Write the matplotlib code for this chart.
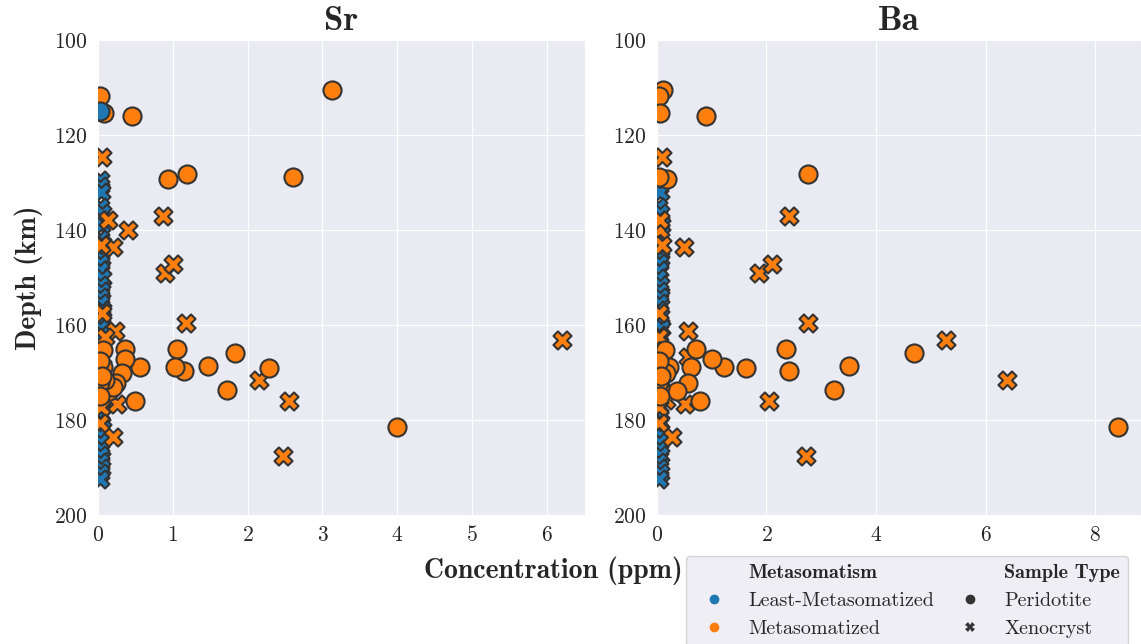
"""Sr and Ba concentration against depth, by metasomatism and sample type"""

import numpy as np
import pandas as pd
import matplotlib
matplotlib.use('Agg')
import matplotlib.pyplot as plt
from matplotlib.lines import Line2D
import seaborn as sns

sns.set_style('darkgrid')
plt.rcParams['font.family'] = ['cmr10', 'DejaVu Serif']
plt.rcParams['axes.formatter.use_mathtext'] = True
plt.rcParams['axes.unicode_minus'] = False

BOLD = ['cmb10', 'DejaVu Serif']

# metasomatized peridotites
mp_depth = [110.5, 111.8, 115.3, 116.1, 129.3, 128.2, 128.9, 165.8, 165.1, 165.1,
            165.2, 169.7, 169.1, 168.7, 168.9, 168.9, 168.9, 167.2, 170.2, 172.3,
            173.6, 173.8, 173.0, 176.1, 181.4, 171.6, 167.5, 172.0, 175.0, 170.8]
mp_sr = [3.13, 0.02, 0.08, 0.45, 0.93, 1.19, 2.61, 1.83, 1.05, 0.36,
         0.06, 1.15, 2.28, 1.47, 1.03, 0.56, 0.06, 0.36, 0.32, 0.24,
         1.73, 0.15, 0.20, 0.49, 4.00, 0.09, 0.03, 0.03, 0.02, 0.05]
mp_ba = [0.11, 0.04, 0.05, 0.89, 0.19, 2.75, 0.04, 4.70, 2.35, 0.71,
         0.15, 2.41, 1.62, 3.51, 1.22, 0.63, 0.22, 1.01, 0.17, 0.57,
         3.24, 0.36, 0.05, 0.78, 8.42, 0.05, 0.04, 0.03, 0.06, 0.08]

# metasomatized xenocrysts
mx_depth = [124.6, 137.0, 140.0, 137.9, 143.6, 143.2, 149.1, 147.2, 159.6, 161.2,
            163.1, 171.6, 176.0, 187.6, 176.7, 183.5, 166.7, 175.8, 157.5, 177.2,
            180.7, 162.5]
mx_sr = [0.05, 0.87, 0.40, 0.13, 0.20, 0.04, 0.89, 1.00, 1.18, 0.23,
         6.20, 2.15, 2.55, 2.47, 0.25, 0.20, 0.05, 0.04, 0.05, 0.04,
         0.03, 0.09]
mx_ba = [0.09, 2.42, 0.05, 0.06, 0.49, 0.10, 1.87, 2.10, 2.75, 0.57,
         5.27, 6.40, 2.05, 2.72, 0.51, 0.27, 0.57, 0.16, 0.04, 0.03,
         0.04, 0.03]

# least-metasomatized peridotites
lp_depth = [115.0]
lp_sr = [0.02]
lp_ba = [np.nan]

# least-metasomatized xenocrysts
lx_depth = [129.5, 130.8, 132.0, 135.2, 136.4, 137.8, 139.0, 141.8, 143.0, 144.6,
            145.8, 147.0, 148.4, 150.2, 151.6, 152.8, 154.0, 155.4, 156.8, 158.2,
            159.4, 160.6, 162.0, 163.6, 165.0, 177.5, 179.0, 180.4, 181.8, 183.2,
            184.6, 186.0, 187.4, 188.8, 190.0, 191.2, 192.4]
lx_sr = [0.03, 0.02, 0.04, 0.03, 0.05, 0.02, 0.04, 0.03, 0.05, 0.02,
         0.04, 0.03, 0.02, 0.05, 0.03, 0.04, 0.02, 0.03, 0.05, 0.04,
         0.02, 0.03, 0.04, 0.05, 0.03, 0.02, 0.04, 0.03, 0.05, 0.02,
         0.03, 0.04, 0.02, 0.03, 0.04, 0.02, 0.03]
lx_ba = [0.04, 0.03, 0.06, 0.02, 0.05, 0.03, 0.07, 0.04, 0.02, 0.05,
         0.06, 0.03, 0.04, 0.02, 0.05, 0.03, 0.06, 0.04, 0.02, 0.05,
         0.03, 0.07, 0.04, 0.02, 0.05, 0.03, 0.04, 0.06, 0.02, 0.05,
         0.03, 0.04, 0.06, 0.02, 0.03, 0.05, 0.04]

groups = ['Least-Metasomatized', 'Metasomatized']
types = ['Peridotite', 'Xenocryst']
elements = ['Sr', 'Ba']


def _frame(depth, sr, ba, group, kind):
    return pd.DataFrame({'Depth': depth, 'Sr': sr, 'Ba': ba,
                         'Metasomatism': group, 'Sample Type': kind})


data = pd.concat([
    _frame(lx_depth, lx_sr, lx_ba, groups[0], types[1]),
    _frame(mx_depth, mx_sr, mx_ba, groups[1], types[1]),
    _frame(mp_depth, mp_sr, mp_ba, groups[1], types[0]),
    _frame(lp_depth, lp_sr, lp_ba, groups[0], types[0]),
], ignore_index=True)

palette = {groups[0]: '#1f77b4', groups[1]: '#ff7f0e'}
markers = {types[0]: 'o', types[1]: 'X'}
edge = '#333333'

fig = plt.figure(figsize=(11.41, 6.44), dpi=100)
axes = [fig.add_axes([0.0859, 0.2003, 0.4268, 0.7376]),
        fig.add_axes([0.5758, 0.2003, 0.4242, 0.7376])]

for ax, el in zip(axes, elements):
    # draw in data order so later groups sit on top
    order = [(groups[0], types[1]), (groups[1], types[1]),
             (groups[1], types[0]), (groups[0], types[0])]
    for grp, kind in order:
        sub = data[(data['Metasomatism'] == grp) & (data['Sample Type'] == kind)]
        ax.scatter(sub[el], sub['Depth'], s=170, marker=markers[kind],
                   color=palette[grp], edgecolor=edge, linewidth=1.5, zorder=3)
    ax.axvline(0, color='red', alpha=0.12, lw=1.5, zorder=1)
    ax.set_xlim(left=0)
    ax.set_ylim(200, 100)
    ax.set_yticks(np.arange(100, 201, 20))
    ax.set_title(el, fontsize=25, family=BOLD, pad=7)
    ax.tick_params(labelsize=15.5, pad=4)

axes[0].set_ylabel('Depth (km)', fontsize=20, family=BOLD, labelpad=8)
fig.text(0.485, 0.113, 'Concentration (ppm)', fontsize=20, family=BOLD,
         ha='center', va='center')

# two-column legend with group headings
blank = Line2D([], [], linestyle='none', marker='')
handles = [blank,
           Line2D([], [], linestyle='none', marker='o', markersize=7,
                  color=palette[groups[0]], markeredgewidth=0),
           Line2D([], [], linestyle='none', marker='o', markersize=7,
                  color=palette[groups[1]], markeredgewidth=0),
           blank,
           Line2D([], [], linestyle='none', marker='o', markersize=7,
                  color=edge, markeredgewidth=0),
           Line2D([], [], linestyle='none', marker='X', markersize=7,
                  color=edge, markeredgewidth=0)]
labels = ['Metasomatism', groups[0], groups[1], 'Sample Type', types[0], types[1]]
leg = fig.legend(handles, labels, ncol=2, loc='upper left',
                 bbox_to_anchor=(0.592, 0.153), fontsize=14.5,
                 frameon=True, handletextpad=0.7, columnspacing=0.8,
                 labelspacing=0.5, borderpad=0.4)
for txt in leg.get_texts():
    if txt.get_text() in ('Metasomatism', 'Sample Type'):
        txt.set_family(BOLD)

fig.savefig('out.png', dpi=100)
